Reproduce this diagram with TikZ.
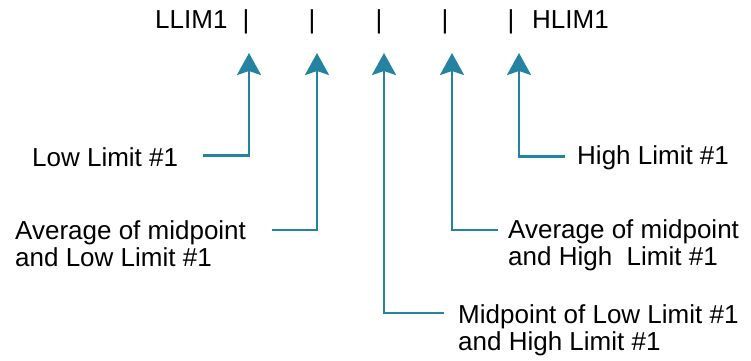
\documentclass[tikz,border=0pt]{standalone}
\usepackage{fontspec}
\setmainfont{Liberation Sans}
\usetikzlibrary{arrows.meta}
\definecolor{tealc}{RGB}{35,131,160}
\begin{document}
\begin{tikzpicture}[x=1pt,y=-1pt,
  lbl/.style={font=\fontsize{26}{27}\selectfont, inner sep=0pt, align=left},
  conn/.style={draw=tealc, line width=2.8pt},
  tipend/.style={-{Stealth[length=22pt,width=24pt,inset=4pt]}}]
\useasboundingbox (0,0) rectangle (751,360);
% header
\node[lbl, anchor=base west] (llim) at (155,28) {LLIM1};
\node[lbl, anchor=base] (b1) at (246,28) {|};
\node[lbl, anchor=base] (b2) at (312,28) {|};
\node[lbl, anchor=base] (b3) at (379,28) {|};
\node[lbl, anchor=base] (b4) at (445,28) {|};
\node[lbl, anchor=base] (b5) at (511,28) {|};
\node[lbl, anchor=base west] (hlim) at (532,28) {HLIM1};
% arrow tips
\coordinate (a1) at (249,53);
\coordinate (a2) at (317,53);
\coordinate (a3) at (384,53);
\coordinate (a4) at (452,53);
\coordinate (a5) at (519,53);
% labels
\node[lbl, anchor=base west] (low) at (32,166) {Low Limit \#1};
\node[lbl, anchor=north west] (avglow) at (15,220) {Average of midpoint\\and Low Limit \#1};
\node[lbl, anchor=north west] (mid) at (458,304) {Midpoint of Low Limit \#1\\and High Limit \#1};
\node[lbl, anchor=north west] (avghigh) at (508,219) {Average of midpoint\\and High\ \ Limit \#1};
\node[lbl, anchor=base west] (high) at (577,164) {High Limit \#1};
% connectors
\draw[conn, tipend] ([xshift=25pt,yshift=1.5pt]low.east) -| (a1);
\draw[conn, tipend] ([xshift=26pt,yshift=-10pt]avglow.north east) -| (a2);
\draw[conn, tipend] ([xshift=-14pt,yshift=-9pt]mid.north west) -| (a3);
\draw[conn, tipend] ([xshift=-10pt,yshift=-11pt]avghigh.north west) -| (a4);
\draw[conn, tipend] ([xshift=-12pt,yshift=1pt]high.west) -| (a5);
\end{tikzpicture}
\end{document}
